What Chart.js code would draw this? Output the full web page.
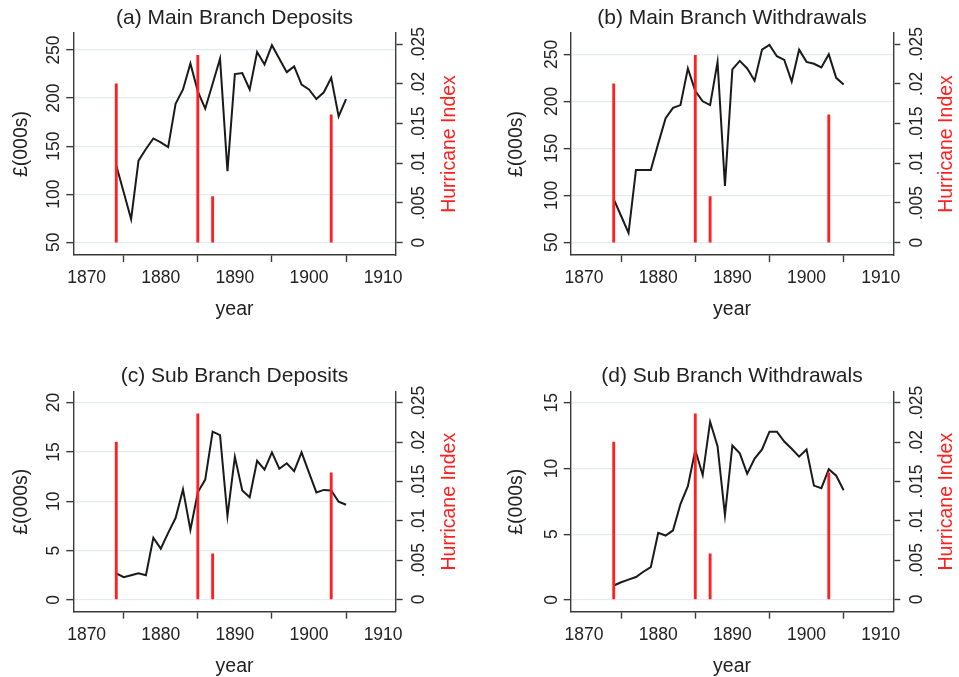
<!DOCTYPE html>
<html><head><meta charset="utf-8">
<script src="https://cdn.jsdelivr.net/npm/chart.js@4"></script>
<style>
html,body{margin:0;padding:0;background:#fff;}
#wrap{position:relative;width:959px;height:677px;overflow:hidden;background:#fff;}
canvas{position:absolute;}
</style></head><body>
<div id="wrap">
<canvas id="ca" width="480" height="330" style="left:0px;top:0px"></canvas>
<canvas id="cb" width="479" height="330" style="left:480px;top:0px"></canvas>
<canvas id="cc" width="480" height="347" style="left:0px;top:330px"></canvas>
<canvas id="cd" width="479" height="347" style="left:480px;top:330px"></canvas>
</div>
<script>
// ---------- data ----------
const years = [1874,1875,1876,1877,1878,1879,1880,1881,1882,1883,1884,1885,1886,1887,1888,1889,
               1890,1891,1892,1893,1894,1895,1896,1897,1898,1899,1900,1901,1902,1903,1904,1905];
const mainDeposits = [130,102,74,135,147,158,154,149,194,209,236,207,189,215,241,124,
                      225,226,209,248,235,255,241,227,233,214,209,199,206,221,181,199];
const mainWithdrawals = [96,78,60,127,127,127,155,182,193,196,235,211,200,196,242,110,
                         234,243,235,222,255,260,248,244,221,255,242,240,236,250,225,218];
const subDeposits = [2.7,2.3,2.5,2.7,2.5,6.3,5.2,6.8,8.3,11.2,7.1,10.9,12.2,17.05,16.7,8.5,
                     14.5,11.1,10.4,14.1,13.2,14.95,13.3,13.85,13.05,14.95,12.9,10.9,11.15,11.1,9.95,9.65];
const subWithdrawals = [1.1,1.35,1.55,1.75,2.15,2.5,5.1,4.9,5.3,7.3,8.65,11.4,9.5,13.55,11.7,6.45,
                        11.75,11.15,9.6,10.75,11.45,12.8,12.8,12.05,11.5,10.9,11.45,8.7,8.5,9.95,9.45,8.35];
const hurricaneYears = [1874,1885,1887,1903];
const hurricaneIndex = [0.0200,0.0236,0.0058,0.0161];

const yearTicks = [1870,1880,1890,1900,1910];
const hurricaneTicks = [0,0.005,0.01,0.015,0.02,0.025];
const hurricaneTickLabels = ['0','.005','.01','.015','.02','.025'];
const mainTicks = [50,100,150,200,250];
const subDepositTicks = [0,5,10,15,20];
const subWithdrawalTicks = [0,5,10,15];

const panelTitles = ['(a) Main Branch Deposits','(b) Main Branch Withdrawals',
                     '(c) Sub Branch Deposits','(d) Sub Branch Withdrawals'];
const xTitle = 'year';
const yTitle = '£(000s)';
const y2Title = 'Hurricane Index';

// ---------- style / layout ----------
const FONT = '"Liberation Sans", Arial, Helvetica, sans-serif';
const TICK_SIZE = 17.5, AXTITLE_SIZE = 19.5, TITLE_SIZE = 21;
const AXIS_COLOR = '#3a3a3a', GRID_COLOR = '#e3ebee', TEXT_COLOR = '#222222';
const RED = '#ff2020', LINE_COLOR = '#1a1a1a';
const TL = 7;                 // tick length
const LEFT_LABEL_OFF = 19;    // axis -> centre of rotated left labels
const RIGHT_LABEL_OFF = 23.5; // axis -> centre of rotated right labels
const X_RANGE = [1868.2, 1911.7];
const Y2_RANGE = [-0.00155, 0.0264];

const panels = [
  {id:'ca', W:480, H:330, area:{l:73.3,r:395.7,t:33,b:255}, titleY:18.3, xTitleY:310, yTitleX:21.7, y2TitleX:450,
   values:mainDeposits, ticks:mainTicks, yRange:[36.8,267.7], title:panelTitles[0]},
  {id:'cb', W:479, H:330, area:{l:90.7,r:413.3,t:33,b:255}, titleY:18.3, xTitleY:310, yTitleX:36.7, y2TitleX:466.7,
   values:mainWithdrawals, ticks:mainTicks, yRange:[36.5,272.7], title:panelTitles[1]},
  {id:'cc', W:480, H:347, area:{l:73.3,r:395.7,t:61.7,b:281.7}, titleY:46.7, xTitleY:336.7, yTitleX:21.7, y2TitleX:450,
   values:subDeposits, ticks:subDepositTicks, yRange:[-1.19,21.1], title:panelTitles[2]},
  {id:'cd', W:479, H:347, area:{l:90.7,r:413.3,t:61.7,b:281.7}, titleY:46.7, xTitleY:336.7, yTitleX:36.7, y2TitleX:466.7,
   values:subWithdrawals, ticks:subWithdrawalTicks, yRange:[-0.89,15.84], title:panelTitles[3]}
];

const mctx = document.createElement('canvas').getContext('2d');
mctx.font = TICK_SIZE + 'px ' + FONT;
function widest(labels){ return Math.max(...labels.map(s => mctx.measureText(String(s)).width)); }

const rightTitlePlugin = {
  id:'rightTitle',
  afterDraw(chart, args, opts){
    const {ctx, chartArea} = chart;
    ctx.save();
    ctx.font = AXTITLE_SIZE + 'px ' + FONT;
    ctx.fillStyle = RED;
    ctx.textAlign = 'center';
    ctx.textBaseline = 'middle';
    ctx.translate(opts.x, (chartArea.top + chartArea.bottom) / 2);
    ctx.rotate(-Math.PI / 2);
    ctx.fillText(opts.text, 0, 0);
    ctx.restore();
  }
};

panels.forEach(P => {
  const titleLH = TITLE_SIZE * 1.2;
  const titlePadTop = P.titleY - titleLH / 2;
  const titlePadBottom = P.area.t - titlePadTop - titleLH;
  const axLH = AXTITLE_SIZE * 1.0;
  const leftPad = LEFT_LABEL_OFF - TL - widest(P.ticks) / 2;
  const rightPad = RIGHT_LABEL_OFF - TL - widest(hurricaneTickLabels) / 2;

  new Chart(document.getElementById(P.id), {
    type: 'line',
    data: {
      datasets: [
        { type:'bar', label:y2Title, xAxisID:'x', yAxisID:'y1',
          data: hurricaneYears.map((yr,i) => ({x:yr, y:hurricaneIndex[i]})),
          backgroundColor: RED, borderWidth:0, barThickness:2.2 },
        { type:'line', label:P.title, xAxisID:'x', yAxisID:'y',
          data: years.map((yr,i) => ({x:yr, y:P.values[i]})),
          borderColor: LINE_COLOR, borderWidth: 2, pointRadius: 0, tension: 0, fill:false }
      ]
    },
    options: {
      responsive:false, animation:false, devicePixelRatio:1,
      layout:{padding:0},
      plugins:{
        legend:{display:false}, tooltip:{enabled:false},
        title:{display:true, text:P.title, fullSize:false, color:TEXT_COLOR,
               font:{family:FONT, size:TITLE_SIZE, weight:'normal', lineHeight:1.2},
               padding:{top:titlePadTop, bottom:titlePadBottom}},
        rightTitle:{text:y2Title, x:P.y2TitleX}
      },
      scales:{
        x:{ type:'linear', position:'bottom', min:X_RANGE[0], max:X_RANGE[1], offset:false,
            afterBuildTicks: s => { s.ticks = yearTicks.map(v => ({value:v})); },
            afterFit: s => { s.height = P.H - P.area.b; },
            grid:{drawOnChartArea:false, drawTicks:true, tickLength:TL, tickColor:AXIS_COLOR, tickWidth:1.4},
            border:{display:true, color:AXIS_COLOR, width:1.4},
            ticks:{color:TEXT_COLOR, font:{family:FONT, size:TICK_SIZE, lineHeight:1.2}, padding:6,
                   maxRotation:0, minRotation:0, autoSkip:false, callback:v => String(v)},
            title:{display:true, text:xTitle, color:TEXT_COLOR,
                   font:{family:FONT, size:AXTITLE_SIZE, lineHeight:1.0},
                   padding:{top:0, bottom:P.H - P.xTitleY - axLH/2}} },
        y:{ type:'linear', position:'left', min:P.yRange[0], max:P.yRange[1],
            afterBuildTicks: s => { s.ticks = P.ticks.map(v => ({value:v})); },
            afterFit: s => { s.width = P.area.l; },
            grid:{drawOnChartArea:true, color:GRID_COLOR, lineWidth:1.3, drawTicks:true, tickLength:TL,
                  tickColor:AXIS_COLOR, tickWidth:1.4},
            border:{display:true, color:AXIS_COLOR, width:1.4},
            ticks:{color:TEXT_COLOR, font:{family:FONT, size:TICK_SIZE, lineHeight:1.2}, padding:leftPad,
                   minRotation:90, maxRotation:90, crossAlign:'center', autoSkip:false, callback:v => String(v)},
            title:{display:true, text:yTitle, color:TEXT_COLOR,
                   font:{family:FONT, size:AXTITLE_SIZE, lineHeight:1.0},
                   padding:{top:P.yTitleX - axLH/2, bottom:0}} },
        y1:{ type:'linear', position:'right', min:Y2_RANGE[0], max:Y2_RANGE[1],
            afterBuildTicks: s => { s.ticks = hurricaneTicks.map(v => ({value:v})); },
            afterFit: s => { s.width = P.W - P.area.r; },
            grid:{drawOnChartArea:false, drawTicks:true, tickLength:TL, tickColor:AXIS_COLOR, tickWidth:1.4},
            border:{display:true, color:AXIS_COLOR, width:1.4},
            ticks:{color:TEXT_COLOR, font:{family:FONT, size:TICK_SIZE, lineHeight:1.2}, padding:rightPad,
                   minRotation:90, maxRotation:90, crossAlign:'center', autoSkip:false,
                   callback:v => { const i = hurricaneTicks.findIndex(t => Math.abs(t - v) < 1e-9); return i >= 0 ? hurricaneTickLabels[i] : ''; }} }
      }
    },
    plugins:[rightTitlePlugin]
  });
});
</script>
</body></html>
